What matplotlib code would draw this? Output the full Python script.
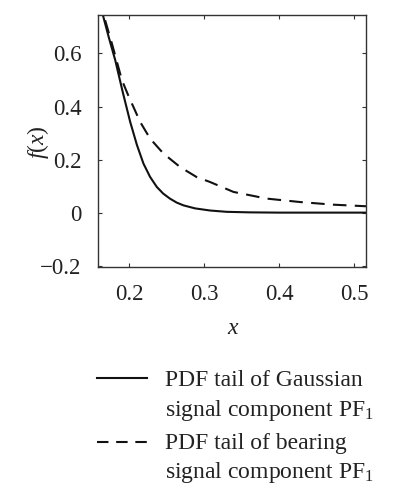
import matplotlib
matplotlib.use("Agg")
import matplotlib.pyplot as plt
from matplotlib.lines import Line2D

plt.rcParams['font.family'] = ['Liberation Serif', 'DejaVu Serif']
plt.rcParams['mathtext.fontset'] = 'custom'
plt.rcParams['mathtext.rm'] = 'Liberation Serif'
plt.rcParams['mathtext.it'] = 'Liberation Serif:italic'

# Data
x_gauss = [0.158, 0.1645, 0.172, 0.181, 0.191, 0.201, 0.210, 0.2187, 0.2275, 0.2365,
           0.245, 0.254, 0.263, 0.272, 0.2876, 0.3076, 0.33, 0.36, 0.40, 0.45, 0.52]
y_gauss = [0.83, 0.745, 0.665, 0.575, 0.455, 0.342, 0.255, 0.185, 0.135, 0.097,
           0.072, 0.053, 0.038, 0.0275, 0.016, 0.008, 0.003, 0.001, 0.0, 0.0, 0.0]

x_bearing = [0.158, 0.166, 0.1765, 0.190, 0.1987, 0.2143, 0.2276, 0.2453, 0.2676,
             0.2898, 0.3076, 0.339, 0.383, 0.4276, 0.472, 0.516]
y_bearing = [0.84, 0.74, 0.638, 0.499, 0.44, 0.342, 0.279, 0.223, 0.172,
             0.134, 0.1155, 0.078, 0.053, 0.040, 0.030, 0.024]

x_ticks = [0.2, 0.3, 0.4, 0.5]
x_ticklabels = ["0.2", "0.3", "0.4", "0.5"]
y_ticks = [-0.2, 0.0, 0.2, 0.4, 0.6]
y_ticklabels = ["\u22120.2", "0", "0.2", "0.4", "0.6"]

legend_labels = [["PDF tail of Gaussian", "signal component PF$_1$"],
                 ["PDF tail of bearing", "signal component PF$_1$"]]

W, H = 397, 500
fig = plt.figure(figsize=(W / 100, H / 100), dpi=100)
ax = fig.add_axes([98 / W, 1 - 267 / H, (366 - 98) / W, (267 - 15) / H])

tc = '#222222'
ax.plot(x_gauss, y_gauss, color='#111111', lw=1.5, solid_capstyle='butt')
ax.plot(x_bearing, y_bearing, color='#111111', lw=1.5, linestyle=(0, (6.5, 4)))

ax.set_xlim(0.158, 0.516)
ax.set_ylim(-0.205, 0.745)
ax.set_xticks(x_ticks)
ax.set_xticklabels(x_ticklabels)
ax.set_yticks(y_ticks)
ax.set_yticklabels(y_ticklabels)
ax.tick_params(direction='in', length=3, width=0.8, top=True, right=True,
               labelsize=16.5, colors='#333333', labelcolor=tc)
ax.tick_params(axis='y', pad=12)
ax.tick_params(axis='x', pad=12)
for s in ax.spines.values():
    s.set_linewidth(1.0)
    s.set_color('#333333')

fig.text(233 / W, 1 - 328 / H, '$x$', fontsize=17, ha='center', va='center', color=tc)
fig.text(38 / W, 1 - 142 / H, '$f(x)$', fontsize=17, ha='center', va='center',
         rotation=90, color=tc)

# Legend (manual)
styles = ['-', (0, (5.5, 3.7))]
handle_y = [378, 442]
base_y = [[385.7, 415.7], [449, 478]]
for i in range(2):
    ln = Line2D([97 / W, 147 / W], [1 - handle_y[i] / H] * 2, transform=fig.transFigure,
                color='#111111', lw=1.5, linestyle=styles[i])
    fig.add_artist(ln)
    for j in range(2):
        fig.text(165 / W, 1 - base_y[i][j] / H, legend_labels[i][j], fontsize=17,
                 ha='left', va='baseline', color=tc)

fig.savefig('out.png', dpi=100)
